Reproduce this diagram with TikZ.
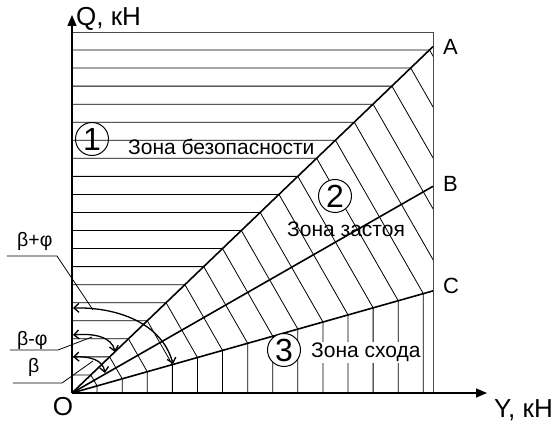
\documentclass[tikz,border=0pt]{standalone}
\usepackage{fontspec}
\setmainfont{Liberation Sans}
\usetikzlibrary{arrows.meta}
\begin{document}
\begin{tikzpicture}[x=1pt,y=1pt,
  hatch/.style={line width=0.8pt},
  ray/.style={line width=1.6pt},
  frame/.style={line width=0.9pt, black!70},
  axis/.style={line width=1.4pt,-{Triangle[length=11pt,width=9pt]}},
  angarc/.style={line width=1.3pt,{Straight Barb[length=5pt,width=9pt]}-{Straight Barb[length=5pt,width=9pt]}},
  leader/.style={line width=0.8pt},
  zonelbl/.style={font=\fontsize{21}{21}\selectfont, inner sep=0pt, anchor=base west},
  ptlbl/.style={font=\fontsize{22}{22}\selectfont, inner sep=0pt, anchor=west},
  axlbl/.style={font=\fontsize{26}{26}\selectfont, inner sep=0pt},
  anglbl/.style={font=\fontsize{19.5}{19.5}\selectfont, inner sep=0pt, anchor=base west},
  circnum/.style={circle, draw, line width=1pt, minimum size=33pt, inner sep=0pt, font=\fontsize{32}{32}\selectfont}
]
\useasboundingbox (-72,-33) rectangle (486,393);
\coordinate (O) at (0,0);
\coordinate (A) at (361,346.4);
\coordinate (B) at (361,206.7);
\coordinate (C) at (361,102.1);
% hatching
\begin{scope}
\clip (0,0) rectangle (361,361);
\foreach \k in {1,...,19}{
  \pgfmathsetmacro{\yk}{\k*18.05}
  \pgfmathsetmacro{\xa}{\yk/tan(43.8)}
  \pgfmathsetmacro{\rk}{\yk/sin(43.8)}
  \pgfmathsetmacro{\xc}{\rk*cos(15.8)}
  \pgfmathsetmacro{\yc}{\rk*sin(15.8)}
  \draw[hatch] (0,\yk) -- (\xa,\yk) -- (\xc,\yc) -- (\xc,0);
}
\end{scope}
% frame
\draw[frame] (0,361) -- (361,361) -- (361,0);
% rays
\draw[ray] (O) -- (A);
\draw[ray] (O) -- (B);
\draw[ray] (O) -- (C);
% axes
\draw[axis] (O) -- (0,378);
\draw[axis] (O) -- (415,0);
% labels
\node[ptlbl] (lA) at (371,346) {A};
\node[ptlbl] (lB) at (371,209) {B};
\node[ptlbl] (lC) at (371,107) {C};
\node[axlbl, anchor=base west] (lQ) at (4,367) {Q, кН};
\node[axlbl, anchor=base west] (lY) at (422,-25) {Y, кН};
\node[axlbl] (lO) at (-9,-14) {O};
% zones
\node[circnum] (z1) at (20,254) {1};
\node[zonelbl] (t1) at (56,238) {Зона безопасности};
\node[circnum, fill=white] (z2) at (263,197) {2};
\node[zonelbl] (t2) at (215,156) {Зона застоя};
\node[circnum, fill=white] (z3) at (212,43) {3};
\node[zonelbl, fill=white, inner sep=1pt] (t3) at (238,35) {Зона схода};
% angle arcs
\draw[angarc] (1,85) .. controls (45,86) and (90,70) .. (101,29);
\draw[angarc] (1,58) .. controls (22,60) and (40,56) .. (43,41);
\draw[angarc] (1,36) .. controls (18,37) and (31,33) .. (33,20);
% angle labels and leaders
\node[anglbl] (g1) at (-55,146) {β+φ};
\node[anglbl] (g2) at (-55,47) {β-φ};
\node[anglbl] (g3) at (-44,20) {β};
\draw[leader] (-65,137) -- (-15,137) -- (21,83);
\draw[leader] (-62,43) -- (-14,43) -- (20,56);
\draw[leader] (-59,10) -- (-10,10) -- (21,32);
\end{tikzpicture}
\end{document}
